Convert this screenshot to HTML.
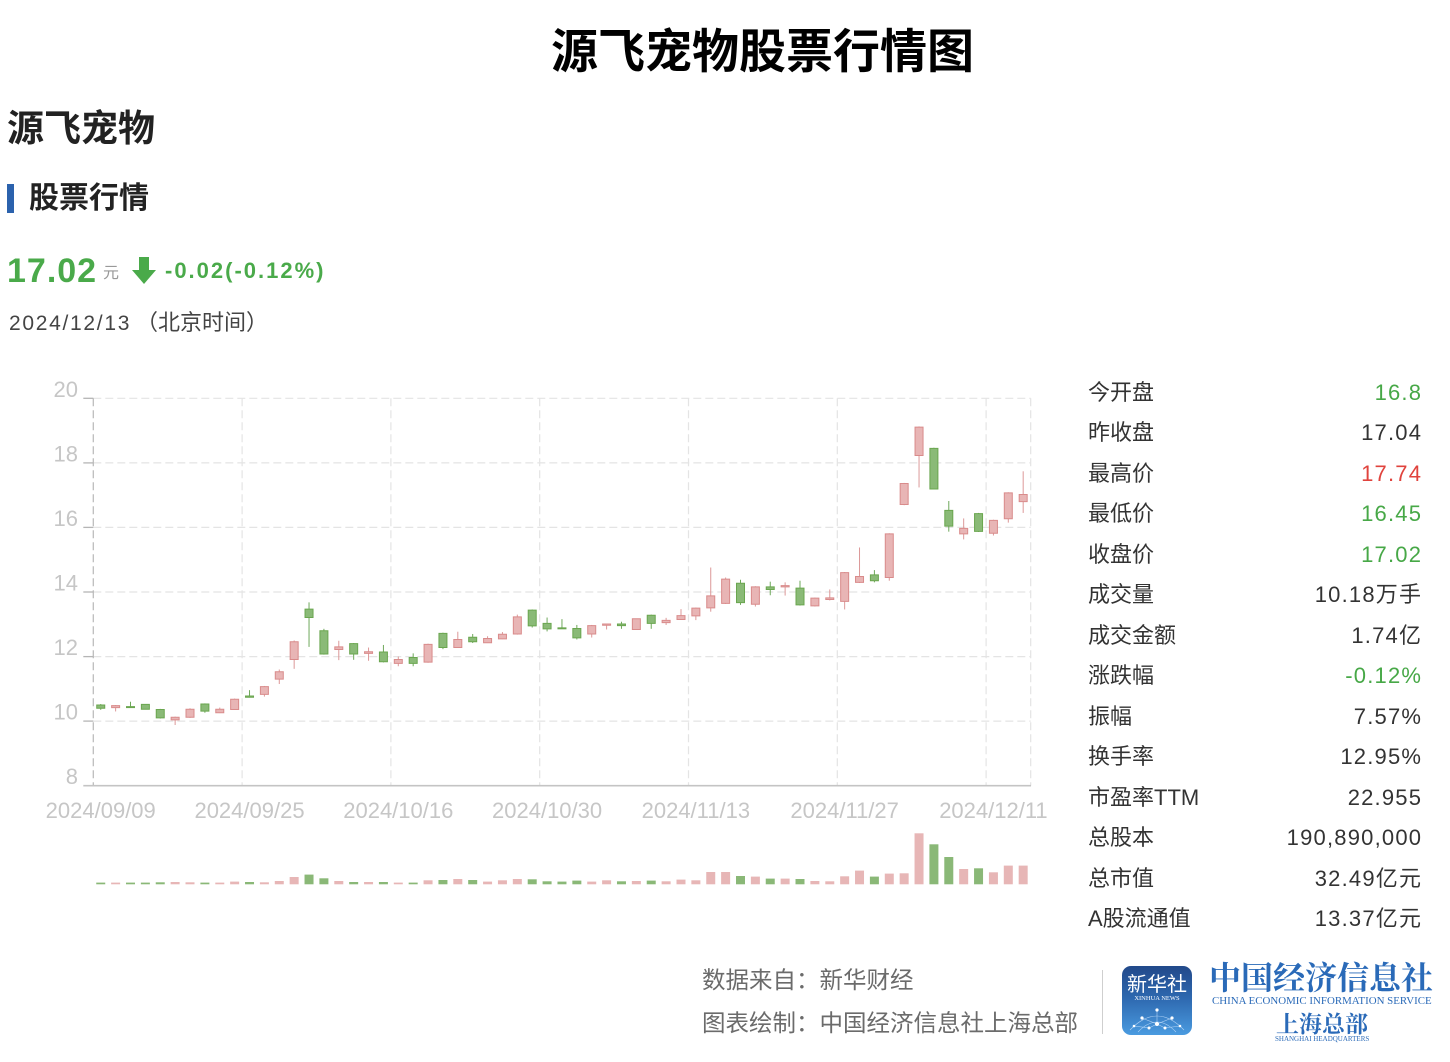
<!DOCTYPE html>
<html><head><meta charset="utf-8">
<style>
html,body{margin:0;padding:0;background:#fff;}
body{width:1450px;height:1062px;position:relative;overflow:hidden;font-family:"Liberation Sans","Noto Sans CJK SC",sans-serif;}
.a{position:absolute;white-space:nowrap;}
.c line,.c rect{vector-effect:non-scaling-stroke;stroke-width:1;}
.r line{stroke:#dc9898;} .r rect{fill:#e8b5b5;stroke:#d98b8b;}
.g line{stroke:#6ea85a;} .g rect{fill:#8aba77;stroke:#6aa64f;}
.vr{fill:#e7b6b6;} .vg{fill:#8ab877;}
.tbl{position:absolute;left:1088px;top:381.5px;width:333px;}
.row{height:40.54px;line-height:22px;font-size:22px;color:#333;display:flex;justify-content:space-between;}
.row .v{letter-spacing:1.2px;margin-right:-1.2px;}
.gr{color:#47a847;} .rd{color:#e0433d;}
</style></head>
<body>
<div class="a" style="left:551px;top:28px;font-size:47px;line-height:47px;font-weight:700;color:#000;">源飞宠物股票行情图</div>
<div class="a" style="left:7px;top:110px;font-size:37px;line-height:37px;font-weight:700;color:#222;">源飞宠物</div>
<div class="a" style="left:7px;top:184px;width:7px;height:29px;background:#2b62ad;"></div>
<div class="a" style="left:29px;top:184px;font-size:30px;line-height:30px;font-weight:700;color:#222;">股票行情</div>
<div class="a" style="left:7px;top:254px;font-size:34px;line-height:34px;font-weight:700;color:#4aaa4a;letter-spacing:1px;">17.02</div>
<div class="a" style="left:103px;top:266px;font-size:16px;line-height:16px;color:#999;">元</div>
<svg class="a" style="left:131px;top:257px;" width="26" height="28" viewBox="0 0 26 28"><rect x="8" y="0" width="10" height="15" fill="#4aaa4a"/><polygon points="1,13 25,13 13,27" fill="#4aaa4a"/></svg>
<div class="a" style="left:165px;top:260px;font-size:22px;line-height:22px;font-weight:700;color:#4aaa4a;letter-spacing:2px;">-0.02(-0.12%)</div>
<div class="a" style="left:9px;top:313px;font-size:21px;line-height:21px;color:#444;letter-spacing:1.7px;">2024/12/13</div>
<div class="a" style="left:136px;top:312px;font-size:22px;line-height:22px;color:#444;">（北京时间）</div>

<svg class="a" style="left:0;top:0;" width="1450" height="1062">
<g stroke="#e4e4e4" stroke-width="1.2" stroke-dasharray="8 4" fill="none">
<line x1="93.3" y1="398.3" x2="1030.7" y2="398.3"/>
<line x1="93.3" y1="462.9" x2="1030.7" y2="462.9"/>
<line x1="93.3" y1="527.4" x2="1030.7" y2="527.4"/>
<line x1="93.3" y1="592" x2="1030.7" y2="592"/>
<line x1="93.3" y1="656.6" x2="1030.7" y2="656.6"/>
<line x1="93.3" y1="721.1" x2="1030.7" y2="721.1"/>
<line x1="242.1" y1="398.3" x2="242.1" y2="785.7"/>
<line x1="390.9" y1="398.3" x2="390.9" y2="785.7"/>
<line x1="539.7" y1="398.3" x2="539.7" y2="785.7"/>
<line x1="688.5" y1="398.3" x2="688.5" y2="785.7"/>
<line x1="837.3" y1="398.3" x2="837.3" y2="785.7"/>
<line x1="986.1" y1="398.3" x2="986.1" y2="785.7"/>
<line x1="1030.7" y1="398.3" x2="1030.7" y2="785.7"/>
</g>
<line x1="93.3" y1="398.3" x2="93.3" y2="785.7" stroke="#bdbdbd" stroke-width="1.3" stroke-dasharray="8 4"/>
<g stroke="#b5b5b5" stroke-width="1.3">
<line x1="83.3" y1="398.3" x2="93.3" y2="398.3"/>
<line x1="83.3" y1="462.9" x2="93.3" y2="462.9"/>
<line x1="83.3" y1="527.4" x2="93.3" y2="527.4"/>
<line x1="83.3" y1="592" x2="93.3" y2="592"/>
<line x1="83.3" y1="656.6" x2="93.3" y2="656.6"/>
<line x1="83.3" y1="721.1" x2="93.3" y2="721.1"/>
<line x1="83.3" y1="785.7" x2="1031" y2="785.7" stroke="#c4c4c4" stroke-width="1.6"/>
</g>
<g font-family="Liberation Sans, sans-serif" font-size="22" fill="#c6c6c6" text-anchor="end">
<text x="78" y="397">20</text>
<text x="78" y="461.5">18</text>
<text x="78" y="526">16</text>
<text x="78" y="590.5">14</text>
<text x="78" y="655">12</text>
<text x="78" y="719.5">10</text>
<text x="78" y="784">8</text>
</g>
<g font-family="Liberation Sans, sans-serif" font-size="22" fill="#c6c6c6" text-anchor="middle">
<text x="100.74" y="818">2024/09/09</text>
<text x="249.52" y="818">2024/09/25</text>
<text x="398.30" y="818">2024/10/16</text>
<text x="547.08" y="818">2024/10/30</text>
<text x="695.86" y="818">2024/11/13</text>
<text x="844.65" y="818">2024/11/27</text>
<text x="993.43" y="818">2024/12/11</text>
</g>

<g class="c" transform="matrix(1 0 0 -32.28 0 1043.94)">
<g class="g" transform="translate(100.74 0)"><line x1="0" x2="0" y1="10.35" y2="10.53"/><rect x="-4" width="8" y="10.40" height="0.10"/></g>
<g class="r" transform="translate(115.62 0)"><line x1="0" x2="0" y1="10.30" y2="10.50"/><rect x="-4" width="8" y="10.42" height="0.06"/></g>
<g class="g" transform="translate(130.50 0)"><line x1="0" x2="0" y1="10.42" y2="10.60"/><rect x="-4" width="8" y="10.42" height="0.03"/></g>
<g class="g" transform="translate(145.37 0)"><line x1="0" x2="0" y1="10.36" y2="10.53"/><rect x="-4" width="8" y="10.37" height="0.15"/></g>
<g class="g" transform="translate(160.25 0)"><line x1="0" x2="0" y1="10.08" y2="10.38"/><rect x="-4" width="8" y="10.10" height="0.26"/></g>
<g class="r" transform="translate(175.13 0)"><line x1="0" x2="0" y1="9.88" y2="10.14"/><rect x="-4" width="8" y="10.04" height="0.08"/></g>
<g class="r" transform="translate(190.01 0)"><line x1="0" x2="0" y1="10.10" y2="10.40"/><rect x="-4" width="8" y="10.12" height="0.25"/></g>
<g class="g" transform="translate(204.89 0)"><line x1="0" x2="0" y1="10.26" y2="10.55"/><rect x="-4" width="8" y="10.31" height="0.22"/></g>
<g class="r" transform="translate(219.77 0)"><line x1="0" x2="0" y1="10.25" y2="10.42"/><rect x="-4" width="8" y="10.26" height="0.11"/></g>
<g class="r" transform="translate(234.64 0)"><line x1="0" x2="0" y1="10.35" y2="10.70"/><rect x="-4" width="8" y="10.36" height="0.32"/></g>
<g class="g" transform="translate(249.52 0)"><line x1="0" x2="0" y1="10.73" y2="10.96"/><rect x="-4" width="8" y="10.74" height="0.04"/></g>
<g class="r" transform="translate(264.40 0)"><line x1="0" x2="0" y1="10.76" y2="11.09"/><rect x="-4" width="8" y="10.83" height="0.24"/></g>
<g class="r" transform="translate(279.28 0)"><line x1="0" x2="0" y1="11.15" y2="11.60"/><rect x="-4" width="8" y="11.30" height="0.23"/></g>
<g class="r" transform="translate(294.16 0)"><line x1="0" x2="0" y1="11.62" y2="12.50"/><rect x="-4" width="8" y="11.91" height="0.55"/></g>
<g class="g" transform="translate(309.03 0)"><line x1="0" x2="0" y1="12.30" y2="13.68"/><rect x="-4" width="8" y="13.21" height="0.26"/></g>
<g class="g" transform="translate(323.91 0)"><line x1="0" x2="0" y1="12.06" y2="12.86"/><rect x="-4" width="8" y="12.08" height="0.72"/></g>
<g class="r" transform="translate(338.79 0)"><line x1="0" x2="0" y1="11.89" y2="12.49"/><rect x="-4" width="8" y="12.22" height="0.08"/></g>
<g class="g" transform="translate(353.67 0)"><line x1="0" x2="0" y1="11.90" y2="12.42"/><rect x="-4" width="8" y="12.08" height="0.32"/></g>
<g class="r" transform="translate(368.55 0)"><line x1="0" x2="0" y1="11.87" y2="12.28"/><rect x="-4" width="8" y="12.10" height="0.05"/></g>
<g class="g" transform="translate(383.42 0)"><line x1="0" x2="0" y1="11.82" y2="12.36"/><rect x="-4" width="8" y="11.84" height="0.30"/></g>
<g class="r" transform="translate(398.30 0)"><line x1="0" x2="0" y1="11.70" y2="12.00"/><rect x="-4" width="8" y="11.79" height="0.12"/></g>
<g class="g" transform="translate(413.18 0)"><line x1="0" x2="0" y1="11.70" y2="12.10"/><rect x="-4" width="8" y="11.79" height="0.18"/></g>
<g class="r" transform="translate(428.06 0)"><line x1="0" x2="0" y1="11.81" y2="12.40"/><rect x="-4" width="8" y="11.83" height="0.55"/></g>
<g class="g" transform="translate(442.94 0)"><line x1="0" x2="0" y1="12.23" y2="12.74"/><rect x="-4" width="8" y="12.28" height="0.44"/></g>
<g class="r" transform="translate(457.81 0)"><line x1="0" x2="0" y1="12.27" y2="12.77"/><rect x="-4" width="8" y="12.28" height="0.25"/></g>
<g class="g" transform="translate(472.69 0)"><line x1="0" x2="0" y1="12.42" y2="12.70"/><rect x="-4" width="8" y="12.46" height="0.14"/></g>
<g class="r" transform="translate(487.57 0)"><line x1="0" x2="0" y1="12.42" y2="12.63"/><rect x="-4" width="8" y="12.43" height="0.13"/></g>
<g class="r" transform="translate(502.45 0)"><line x1="0" x2="0" y1="12.54" y2="12.76"/><rect x="-4" width="8" y="12.55" height="0.14"/></g>
<g class="r" transform="translate(517.33 0)"><line x1="0" x2="0" y1="12.68" y2="13.30"/><rect x="-4" width="8" y="12.70" height="0.53"/></g>
<g class="g" transform="translate(532.21 0)"><line x1="0" x2="0" y1="12.90" y2="13.46"/><rect x="-4" width="8" y="12.95" height="0.49"/></g>
<g class="g" transform="translate(547.08 0)"><line x1="0" x2="0" y1="12.78" y2="13.21"/><rect x="-4" width="8" y="12.86" height="0.17"/></g>
<g class="g" transform="translate(561.96 0)"><line x1="0" x2="0" y1="12.86" y2="13.16"/><rect x="-4" width="8" y="12.86" height="0.03"/></g>
<g class="g" transform="translate(576.84 0)"><line x1="0" x2="0" y1="12.53" y2="12.98"/><rect x="-4" width="8" y="12.58" height="0.29"/></g>
<g class="r" transform="translate(591.72 0)"><line x1="0" x2="0" y1="12.59" y2="12.98"/><rect x="-4" width="8" y="12.70" height="0.26"/></g>
<g class="r" transform="translate(606.60 0)"><line x1="0" x2="0" y1="12.84" y2="13.02"/><rect x="-4" width="8" y="12.97" height="0.04"/></g>
<g class="g" transform="translate(621.47 0)"><line x1="0" x2="0" y1="12.86" y2="13.08"/><rect x="-4" width="8" y="12.96" height="0.05"/></g>
<g class="r" transform="translate(636.35 0)"><line x1="0" x2="0" y1="12.83" y2="13.18"/><rect x="-4" width="8" y="12.84" height="0.33"/></g>
<g class="g" transform="translate(651.23 0)"><line x1="0" x2="0" y1="12.86" y2="13.30"/><rect x="-4" width="8" y="13.03" height="0.25"/></g>
<g class="r" transform="translate(666.11 0)"><line x1="0" x2="0" y1="12.98" y2="13.20"/><rect x="-4" width="8" y="13.05" height="0.07"/></g>
<g class="r" transform="translate(680.99 0)"><line x1="0" x2="0" y1="13.14" y2="13.47"/><rect x="-4" width="8" y="13.15" height="0.12"/></g>
<g class="r" transform="translate(695.86 0)"><line x1="0" x2="0" y1="13.13" y2="13.52"/><rect x="-4" width="8" y="13.26" height="0.24"/></g>
<g class="r" transform="translate(710.74 0)"><line x1="0" x2="0" y1="13.39" y2="14.76"/><rect x="-4" width="8" y="13.51" height="0.37"/></g>
<g class="r" transform="translate(725.62 0)"><line x1="0" x2="0" y1="13.63" y2="14.45"/><rect x="-4" width="8" y="13.65" height="0.75"/></g>
<g class="g" transform="translate(740.50 0)"><line x1="0" x2="0" y1="13.60" y2="14.38"/><rect x="-4" width="8" y="13.67" height="0.60"/></g>
<g class="r" transform="translate(755.38 0)"><line x1="0" x2="0" y1="13.55" y2="14.18"/><rect x="-4" width="8" y="13.62" height="0.54"/></g>
<g class="g" transform="translate(770.25 0)"><line x1="0" x2="0" y1="13.90" y2="14.32"/><rect x="-4" width="8" y="14.08" height="0.08"/></g>
<g class="r" transform="translate(785.13 0)"><line x1="0" x2="0" y1="13.89" y2="14.30"/><rect x="-4" width="8" y="14.16" height="0.04"/></g>
<g class="g" transform="translate(800.01 0)"><line x1="0" x2="0" y1="13.58" y2="14.35"/><rect x="-4" width="8" y="13.60" height="0.52"/></g>
<g class="r" transform="translate(814.89 0)"><line x1="0" x2="0" y1="13.55" y2="13.83"/><rect x="-4" width="8" y="13.57" height="0.24"/></g>
<g class="r" transform="translate(829.77 0)"><line x1="0" x2="0" y1="13.74" y2="14.08"/><rect x="-4" width="8" y="13.77" height="0.05"/></g>
<g class="r" transform="translate(844.65 0)"><line x1="0" x2="0" y1="13.46" y2="14.62"/><rect x="-4" width="8" y="13.71" height="0.89"/></g>
<g class="r" transform="translate(859.52 0)"><line x1="0" x2="0" y1="14.28" y2="15.38"/><rect x="-4" width="8" y="14.30" height="0.18"/></g>
<g class="g" transform="translate(874.40 0)"><line x1="0" x2="0" y1="14.30" y2="14.68"/><rect x="-4" width="8" y="14.35" height="0.18"/></g>
<g class="r" transform="translate(889.28 0)"><line x1="0" x2="0" y1="14.35" y2="15.82"/><rect x="-4" width="8" y="14.45" height="1.35"/></g>
<g class="r" transform="translate(904.16 0)"><line x1="0" x2="0" y1="16.69" y2="17.38"/><rect x="-4" width="8" y="16.71" height="0.65"/></g>
<g class="r" transform="translate(919.04 0)"><line x1="0" x2="0" y1="17.24" y2="19.13"/><rect x="-4" width="8" y="18.23" height="0.88"/></g>
<g class="g" transform="translate(933.91 0)"><line x1="0" x2="0" y1="17.18" y2="18.47"/><rect x="-4" width="8" y="17.19" height="1.26"/></g>
<g class="g" transform="translate(948.79 0)"><line x1="0" x2="0" y1="15.87" y2="16.82"/><rect x="-4" width="8" y="16.04" height="0.49"/></g>
<g class="r" transform="translate(963.67 0)"><line x1="0" x2="0" y1="15.63" y2="16.28"/><rect x="-4" width="8" y="15.80" height="0.17"/></g>
<g class="g" transform="translate(978.55 0)"><line x1="0" x2="0" y1="15.86" y2="16.45"/><rect x="-4" width="8" y="15.88" height="0.55"/></g>
<g class="r" transform="translate(993.43 0)"><line x1="0" x2="0" y1="15.75" y2="16.24"/><rect x="-4" width="8" y="15.82" height="0.40"/></g>
<g class="r" transform="translate(1008.30 0)"><line x1="0" x2="0" y1="16.15" y2="17.09"/><rect x="-4" width="8" y="16.27" height="0.80"/></g>
<g class="r" transform="translate(1023.18 0)"><line x1="0" x2="0" y1="16.45" y2="17.74"/><rect x="-4" width="8" y="16.80" height="0.22"/></g>
</g>

<g transform="translate(0 884.3) scale(1 -1)">
<rect class="vg" x="96.24" width="9" y="0" height="1.7"/>
<rect class="vr" x="111.12" width="9" y="0" height="1.7"/>
<rect class="vg" x="126.00" width="9" y="0" height="1.7"/>
<rect class="vg" x="140.87" width="9" y="0" height="1.7"/>
<rect class="vg" x="155.75" width="9" y="0" height="2"/>
<rect class="vr" x="170.63" width="9" y="0" height="2.3"/>
<rect class="vr" x="185.51" width="9" y="0" height="2"/>
<rect class="vg" x="200.39" width="9" y="0" height="1.7"/>
<rect class="vr" x="215.27" width="9" y="0" height="1.7"/>
<rect class="vr" x="230.14" width="9" y="0" height="2.7"/>
<rect class="vg" x="245.02" width="9" y="0" height="2.3"/>
<rect class="vr" x="259.90" width="9" y="0" height="2"/>
<rect class="vr" x="274.78" width="9" y="0" height="3.3"/>
<rect class="vr" x="289.66" width="9" y="0" height="7.3"/>
<rect class="vg" x="304.53" width="9" y="0" height="9.7"/>
<rect class="vg" x="319.41" width="9" y="0" height="6"/>
<rect class="vr" x="334.29" width="9" y="0" height="3.3"/>
<rect class="vg" x="349.17" width="9" y="0" height="2.3"/>
<rect class="vr" x="364.05" width="9" y="0" height="2.3"/>
<rect class="vg" x="378.92" width="9" y="0" height="2.3"/>
<rect class="vr" x="393.80" width="9" y="0" height="1.7"/>
<rect class="vg" x="408.68" width="9" y="0" height="1.7"/>
<rect class="vr" x="423.56" width="9" y="0" height="4"/>
<rect class="vg" x="438.44" width="9" y="0" height="4.3"/>
<rect class="vr" x="453.31" width="9" y="0" height="5.3"/>
<rect class="vg" x="468.19" width="9" y="0" height="4.3"/>
<rect class="vr" x="483.07" width="9" y="0" height="2.7"/>
<rect class="vr" x="497.95" width="9" y="0" height="4"/>
<rect class="vr" x="512.83" width="9" y="0" height="5.3"/>
<rect class="vg" x="527.71" width="9" y="0" height="5"/>
<rect class="vg" x="542.58" width="9" y="0" height="3"/>
<rect class="vg" x="557.46" width="9" y="0" height="2.7"/>
<rect class="vg" x="572.34" width="9" y="0" height="3.7"/>
<rect class="vr" x="587.22" width="9" y="0" height="2.7"/>
<rect class="vr" x="602.10" width="9" y="0" height="4"/>
<rect class="vg" x="616.97" width="9" y="0" height="3"/>
<rect class="vr" x="631.85" width="9" y="0" height="3.3"/>
<rect class="vg" x="646.73" width="9" y="0" height="3.7"/>
<rect class="vr" x="661.61" width="9" y="0" height="3"/>
<rect class="vr" x="676.49" width="9" y="0" height="4.7"/>
<rect class="vr" x="691.36" width="9" y="0" height="4"/>
<rect class="vr" x="706.24" width="9" y="0" height="12.3"/>
<rect class="vr" x="721.12" width="9" y="0" height="12.3"/>
<rect class="vg" x="736.00" width="9" y="0" height="8.3"/>
<rect class="vr" x="750.88" width="9" y="0" height="7.7"/>
<rect class="vg" x="765.75" width="9" y="0" height="5.7"/>
<rect class="vr" x="780.63" width="9" y="0" height="5.7"/>
<rect class="vg" x="795.51" width="9" y="0" height="5.3"/>
<rect class="vr" x="810.39" width="9" y="0" height="3.3"/>
<rect class="vr" x="825.27" width="9" y="0" height="3"/>
<rect class="vr" x="840.15" width="9" y="0" height="8"/>
<rect class="vr" x="855.02" width="9" y="0" height="13.7"/>
<rect class="vg" x="869.90" width="9" y="0" height="7.7"/>
<rect class="vr" x="884.78" width="9" y="0" height="10.7"/>
<rect class="vr" x="899.66" width="9" y="0" height="11"/>
<rect class="vr" x="914.54" width="9" y="0" height="51"/>
<rect class="vg" x="929.41" width="9" y="0" height="40"/>
<rect class="vg" x="944.29" width="9" y="0" height="27.3"/>
<rect class="vr" x="959.17" width="9" y="0" height="15.3"/>
<rect class="vg" x="974.05" width="9" y="0" height="16"/>
<rect class="vr" x="988.93" width="9" y="0" height="12"/>
<rect class="vr" x="1003.80" width="9" y="0" height="18.7"/>
<rect class="vr" x="1018.68" width="9" y="0" height="18.7"/>
</g>
</svg>

<div class="tbl">
<div class="row"><span>今开盘</span><span class="v gr">16.8</span></div>
<div class="row"><span>昨收盘</span><span class="v">17.04</span></div>
<div class="row"><span>最高价</span><span class="v rd">17.74</span></div>
<div class="row"><span>最低价</span><span class="v gr">16.45</span></div>
<div class="row"><span>收盘价</span><span class="v gr">17.02</span></div>
<div class="row"><span>成交量</span><span class="v">10.18万手</span></div>
<div class="row"><span>成交金额</span><span class="v">1.74亿</span></div>
<div class="row"><span>涨跌幅</span><span class="v gr">-0.12%</span></div>
<div class="row"><span>振幅</span><span class="v">7.57%</span></div>
<div class="row"><span>换手率</span><span class="v">12.95%</span></div>
<div class="row"><span>市盈率TTM</span><span class="v">22.955</span></div>
<div class="row"><span>总股本</span><span class="v">190,890,000</span></div>
<div class="row"><span>总市值</span><span class="v">32.49亿元</span></div>
<div class="row"><span>A股流通值</span><span class="v">13.37亿元</span></div>
</div>

<div class="a" style="left:702px;top:968px;font-size:23.5px;line-height:24px;color:#6b6b6b;">数据来自：新华财经</div>
<div class="a" style="left:702px;top:1011px;font-size:23.5px;line-height:24px;color:#6b6b6b;">图表绘制：中国经济信息社上海总部</div>
<div class="a" style="left:1102px;top:970px;width:1px;height:64px;background:#cfcfcf;"></div>

<div class="a" style="left:1122px;top:966px;width:70px;height:69px;border-radius:9px;background:linear-gradient(180deg,#22498a 0%,#2d67ae 45%,#4a9be0 100%);overflow:hidden;">
<div class="a" style="left:0;top:9px;width:70px;text-align:center;font-size:20px;line-height:20px;color:#fff;">新华社</div>
<div class="a" style="left:0;top:29px;width:70px;text-align:center;font-family:'Liberation Serif',serif;font-size:6.5px;line-height:7px;color:#fff;">XINHUA NEWS</div>
<svg class="a" style="left:0;top:36px;" width="70" height="33" viewBox="0 0 70 33">
<g stroke="#cfe6ff" stroke-width="0.6" fill="none" opacity="0.8">
<path d="M8 28 Q35 0 62 28"/><path d="M16 30 Q35 10 54 30"/>
<line x1="20" y1="16" x2="35" y2="22"/><line x1="35" y1="22" x2="50" y2="16"/><line x1="35" y1="8" x2="35" y2="22"/>
<line x1="12" y1="24" x2="27" y2="26"/><line x1="43" y1="26" x2="58" y2="24"/><line x1="27" y1="26" x2="35" y2="22"/><line x1="35" y1="22" x2="43" y2="26"/>
</g>
<g fill="#ffffff">
<circle cx="35" cy="8" r="1.6"/><circle cx="20" cy="16" r="1.6"/><circle cx="50" cy="16" r="1.6"/><circle cx="35" cy="22" r="2"/>
<circle cx="12" cy="24" r="1.3"/><circle cx="58" cy="24" r="1.3"/><circle cx="27" cy="26" r="1.5"/><circle cx="43" cy="26" r="1.5"/>
</g>
</svg>
</div>
<div class="a" style="left:1209px;top:962px;font-family:'Liberation Serif','Noto Serif CJK SC',serif;font-size:32px;line-height:33px;font-weight:700;color:#2a6ab8;">中国经济信息社</div>
<div class="a" style="left:1212px;top:996px;font-family:'Liberation Serif',serif;font-size:10.9px;line-height:11px;color:#2a6ab8;">CHINA ECONOMIC INFORMATION SERVICE</div>
<div class="a" style="left:1276px;top:1013px;font-family:'Liberation Serif','Noto Serif CJK SC',serif;font-size:23px;line-height:24px;font-weight:700;color:#2a6ab8;">上海总部</div>
<div class="a" style="left:1275px;top:1036px;font-family:'Liberation Serif',serif;font-size:7px;line-height:7px;color:#2a6ab8;">SHANGHAI HEADQUARTERS</div>
</body></html>
